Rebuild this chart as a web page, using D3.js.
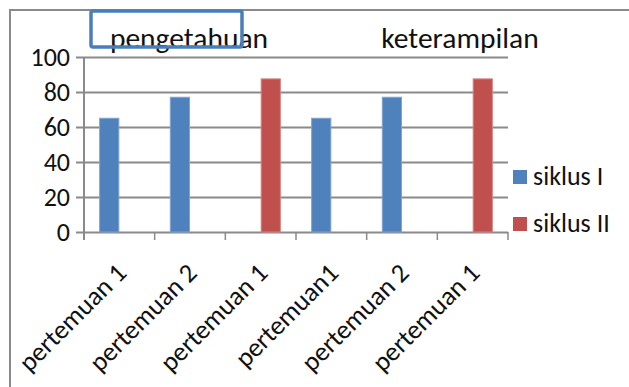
<!DOCTYPE html>
<html>
<head>
<meta charset="utf-8">
<script src="https://cdn.jsdelivr.net/npm/d3@7"></script>
<style>
  html, body { margin: 0; padding: 0; background: #fff; }
  svg { display: block; }
  text { font-family: Carlito, Lato, "Open Sans", sans-serif; fill: #111; }
</style>
</head>
<body>
<svg id="chart" width="629" height="387"></svg>
<script>
// Meetings on the horizontal axis (pengetahuan block, then keterampilan block)
const categories = ["pertemuan 1", "pertemuan 2", "pertemuan 1", "pertemuan1", "pertemuan 2", "pertemuan 1"];
// Scores per cycle
const siklusI  = [65, 77, 0, 65, 77, 0];
const siklusII = [0, 0, 87.5, 0, 0, 87.5];
const seriesNames = ["siklus I", "siklus II"];
const yTicks = [0, 20, 40, 60, 80, 100];
const groupTitles = ["pengetahuan", "keterampilan"];

const colors = { "siklus I": "#4F81BD", "siklus II": "#C0504D" };
const strokes = { "siklus I": "#7FA3D2", "siklus II": "#D48583" };

const svg = d3.select("#chart");
const W = 629, H = 387;
const plot = { left: 84, right: 508, top: 57, bottom: 232 };

// Outer chart frame (runs past the visible window on the right and bottom)
svg.append("rect")
  .attr("x", 10).attr("y", 10)
  .attr("width", W + 40).attr("height", H + 40)
  .attr("fill", "none").attr("stroke", "#8a8a8a").attr("stroke-width", 2);

const x0 = d3.scaleBand().domain(d3.range(categories.length))
  .range([plot.left, plot.right]).paddingInner(0).paddingOuter(0);
const gap = 1.5; // gap between clusters, as a fraction of one bar
const barW = x0.bandwidth() / (seriesNames.length + gap);
const x1 = d3.scaleBand().domain(seriesNames)
  .range([0, barW * seriesNames.length]);
const y = d3.scaleLinear().domain([0, 100]).range([plot.bottom, plot.top]);

// Horizontal gridlines with left tick stubs
const yAxis = d3.axisLeft(y).tickValues(yTicks)
  .tickSize(-(plot.right - plot.left)).tickSizeOuter(0).tickPadding(14);
const gy = svg.append("g").attr("transform", `translate(${plot.left},0)`).call(yAxis);
gy.select(".domain").remove();
gy.selectAll(".tick line")
  .attr("x1", -8)
  .attr("stroke", "#8a8a8a").attr("stroke-width", 2);
gy.selectAll(".tick text")
  .attr("font-size", 26).attr("fill", "#111")
  .style("font-family", "Carlito, Lato, sans-serif");

// Vertical axis line
svg.append("line")
  .attr("x1", plot.left).attr("x2", plot.left)
  .attr("y1", plot.top).attr("y2", plot.bottom + 8)
  .attr("stroke", "#8a8a8a").attr("stroke-width", 2);

// Category tick marks at band edges
const edges = d3.range(categories.length + 1).map(i => plot.left + i * x0.bandwidth());
svg.append("g").selectAll("line").data(edges).join("line")
  .attr("x1", d => d).attr("x2", d => d)
  .attr("y1", plot.bottom).attr("y2", plot.bottom + 8)
  .attr("stroke", "#8a8a8a").attr("stroke-width", 1.5);

// Bars
const rows = categories.map((c, i) => ({ i, values: [
  { key: "siklus I", value: siklusI[i] },
  { key: "siklus II", value: siklusII[i] }
]}));
const groups = svg.append("g").selectAll("g").data(rows).join("g")
  .attr("transform", d => `translate(${x0(d.i) + barW * gap / 2},0)`);
groups.selectAll("rect").data(d => d.values.filter(v => v.value > 0)).join("rect")
  .attr("x", d => x1(d.key) + 0.5)
  .attr("width", barW - 1)
  .attr("y", d => y(d.value))
  .attr("height", d => y(0) - y(d.value))
  .attr("fill", d => colors[d.key])
  .attr("stroke", d => strokes[d.key]).attr("stroke-width", 1);

// Rotated category labels
svg.append("g").selectAll("text").data(categories).join("text")
  .attr("transform", (d, i) => `translate(${x0(i) + x0.bandwidth() / 2 + 2},${plot.bottom + 36}) rotate(-45)`)
  .attr("text-anchor", "end")
  .attr("dy", "0.35em")
  .attr("font-size", 26.5)
  .text(d => d);

// Block titles
svg.append("text").attr("x", 189).attr("y", 48)
  .attr("text-anchor", "middle").attr("font-size", 29.5).text(groupTitles[0]);
svg.append("text").attr("x", 460).attr("y", 48)
  .attr("text-anchor", "middle").attr("font-size", 29.5).text(groupTitles[1]);

// Highlight box over the first title
svg.append("rect")
  .attr("x", 91).attr("y", 11).attr("width", 151).attr("height", 36)
  .attr("rx", 2)
  .attr("fill", "none").attr("stroke", "#4A7EBB").attr("stroke-width", 3.5);

// Legend
const legend = svg.append("g").selectAll("g").data(seriesNames).join("g")
  .attr("transform", (d, i) => `translate(513,${170 + i * 47})`);
legend.append("rect").attr("width", 14).attr("height", 14)
  .attr("fill", d => colors[d]);
legend.append("text").attr("x", 20).attr("y", 15)
  .attr("font-size", 26).text(d => d);
</script>
</body>
</html>
